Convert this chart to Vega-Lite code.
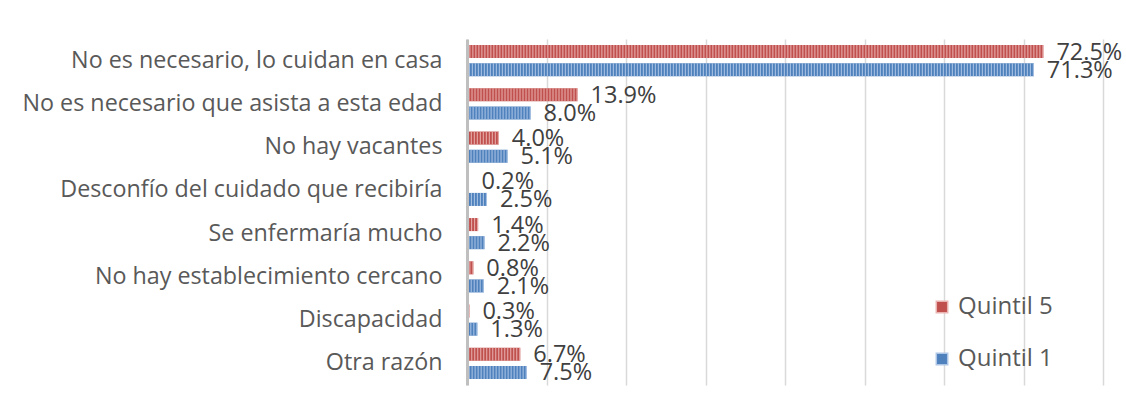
{
  "$schema": "https://vega.github.io/schema/vega-lite/v6.json",
  "autosize": "none",
  "width": 636,
  "height": 346,
  "padding": {"left": 467, "top": 39, "right": 23, "bottom": 23},
  "background": "white",
  "config": {"view": {"stroke": null}, "font": "Open Sans"},
  "data": {"values": [
    {"razon": "No es necesario, lo cuidan en casa", "serie": "Quintil 5", "v": 72.5},
    {"razon": "No es necesario, lo cuidan en casa", "serie": "Quintil 1", "v": 71.3},
    {"razon": "No es necesario que asista a esta edad", "serie": "Quintil 5", "v": 13.9},
    {"razon": "No es necesario que asista a esta edad", "serie": "Quintil 1", "v": 8.0},
    {"razon": "No hay vacantes", "serie": "Quintil 5", "v": 4.0},
    {"razon": "No hay vacantes", "serie": "Quintil 1", "v": 5.1},
    {"razon": "Desconfío del cuidado que recibiría", "serie": "Quintil 5", "v": 0.2},
    {"razon": "Desconfío del cuidado que recibiría", "serie": "Quintil 1", "v": 2.5},
    {"razon": "Se enfermaría mucho", "serie": "Quintil 5", "v": 1.4},
    {"razon": "Se enfermaría mucho", "serie": "Quintil 1", "v": 2.2},
    {"razon": "No hay establecimiento cercano", "serie": "Quintil 5", "v": 0.8},
    {"razon": "No hay establecimiento cercano", "serie": "Quintil 1", "v": 2.1},
    {"razon": "Discapacidad", "serie": "Quintil 5", "v": 0.3},
    {"razon": "Discapacidad", "serie": "Quintil 1", "v": 1.3},
    {"razon": "Otra razón", "serie": "Quintil 5", "v": 6.7},
    {"razon": "Otra razón", "serie": "Quintil 1", "v": 7.5}
  ]},
  "transform": [{"calculate": "format(datum.v, '.1f') + '%'", "as": "lbl"}],
  "encoding": {
    "y": {
      "field": "razon", "type": "nominal", "sort": null, "title": null,
      "scale": {"paddingInner": 0.28, "paddingOuter": 0.14},
      "axis": {"zindex": 1, "ticks": false, "domainColor": "#bfbfbf", "domainWidth": 3,
               "labelFontSize": 23.3, "labelColor": "#595959", "labelPadding": 25, "labelLimit": 500, "labelFont": "Open Sans"}
    },
    "yOffset": {"field": "serie", "type": "nominal", "sort": ["Quintil 5", "Quintil 1"], "scale": {"paddingInner": 0.28}}
  },
  "layer": [
    {
      "mark": {"type": "bar", "cornerRadius": 0},
      "encoding": {
        "x": {"field": "v", "type": "quantitative", "title": null,
              "scale": {"domain": [0, 80], "nice": false},
              "axis": {"values": [0, 10, 20, 30, 40, 50, 60, 70, 80], "labels": false, "ticks": false, "domain": false,
                       "gridColor": "#d9d9d9", "gridWidth": 1.5}},
        "color": {"field": "serie", "type": "nominal",
                  "scale": {"domain": ["Quintil 5", "Quintil 1"], "range": ["#c0504d", "#4f81bd"]},
                  "legend": {"title": null, "orient": "none", "legendX": 463, "legendY": 256,
                             "symbolType": "square", "symbolSize": 130, "symbolOpacity": 1,
                             "labelFontSize": 24, "labelColor": "#595959", "rowPadding": 28, "labelOffset": 4, "labelFont": "Open Sans"}}
      }
    },
    {
      "mark": {"type": "rule", "strokeWidth": 13, "strokeDash": [1, 2], "strokeCap": "butt"},
      "encoding": {
        "x": {"field": "v", "type": "quantitative"},
        "x2": {"datum": 0},
        "stroke": {"field": "serie", "type": "nominal",
                   "scale": {"domain": ["Quintil 5", "Quintil 1"], "range": ["#e9b3b1", "#aec6e6"]},
                   "legend": null}
      }
    },
    {
      "mark": {"type": "text", "align": "left", "baseline": "middle", "dx": 13, "dy": 1, "fontSize": 23.5, "color": "#404040", "font": "Open Sans"},
      "encoding": {
        "x": {"field": "v", "type": "quantitative"},
        "text": {"field": "lbl"}
      }
    }
  ]
}
